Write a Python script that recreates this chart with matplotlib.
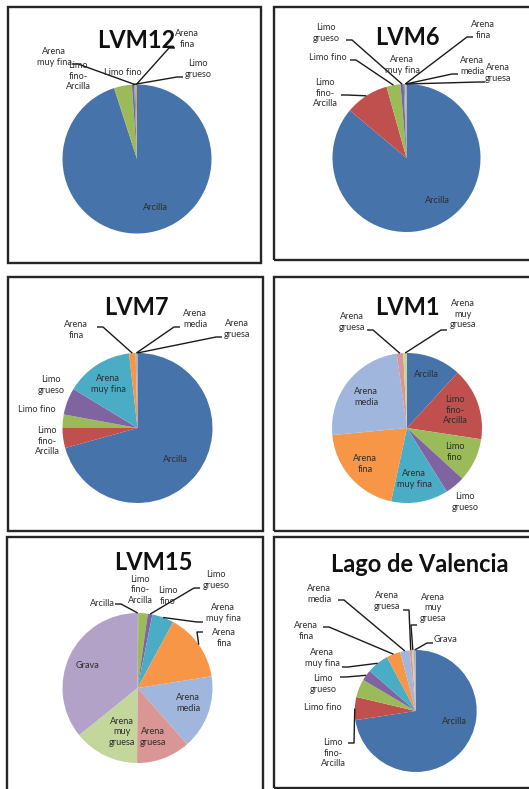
import numpy as np
import matplotlib
matplotlib.use("Agg")
import matplotlib.pyplot as plt
from matplotlib.patches import Rectangle

W, H = 529, 789

# ---------------- data ----------------
categories = ["Arcilla", "Limo fino-Arcilla", "Limo fino", "Limo grueso",
              "Arena muy fina", "Arena fina", "Arena media", "Arena gruesa",
              "Arena muy gruesa", "Grava"]
colors = ["#4573AA", "#C0504D", "#9BBB59", "#8064A2", "#4BACC6",
          "#F79646", "#A0B6DC", "#D99694", "#C3D69B", "#B3A2C7"]

titles = ["LVM12", "LVM6", "LVM7", "LVM1", "LVM15", "Lago de Valencia"]

lvm12 = [95.0, 0.1, 3.8, 0.5, 0.3, 0.3]
lvm6 = [86.1, 9.55, 3.05, 0.7, 0.25, 0.15, 0.1, 0.1]
lvm7 = [70.7, 4.3, 2.9, 5.8, 14.5, 1.4, 0.3, 0.1]
lvm1 = [11.8, 15.6, 9.4, 4.3, 12.3, 20.1, 24.3, 1.4, 0.8]
lvm15 = [0.1, 0.1, 2.0, 1.0, 4.7, 14.6, 16.0, 11.6, 14.1, 35.8]
lago = [72.6, 6.1, 4.8, 2.9, 5.8, 3.7, 2.5, 0.6, 0.5, 0.5]
series = [lvm12, lvm6, lvm7, lvm1, lvm15, lago]

# ---------------- layout (pixels, top-left origin) ----------------
panels = [(8, 7, 261, 263), (274, 7, 531, 260), (8, 277, 263, 531),
          (274, 277, 531, 531), (7, 537, 263, 792), (274, 537, 531, 788)]
pie_geo = [(137, 159, 74.5), (406.5, 158, 74), (137.5, 428, 75),
           (407, 428, 75), (137.5, 688, 75), (415.7, 711, 61)]
title_pos = [(136, 48), (407, 45), (136, 315), (407, 315), (153, 570), (420, 572)]

# (category index, wrapped text, x, y, leader start or None)
labels = [
    [(0, "Arcilla", 155, 207, None),
     (4, "Arena\nmuy fina", 54, 57, (72, 64)),
     (1, "Limo\nfino-\nArcilla", 78, 76, None),
     (2, "Limo fino", 123, 72, None),
     (5, "Arena\nfina", 187, 39, (175, 48)),
     (3, "Limo\ngrueso", 198, 69, (183, 77))],
    [(0, "Arcilla", 437, 200, None),
     (3, "Limo\ngrueso", 326, 33, (346, 40)),
     (2, "Limo fino", 328, 57, (350, 60)),
     (1, "Limo\nfino-\nArcilla", 325, 93, (341, 95)),
     (4, "Arena\nmuy fina", 402, 65, None),
     (5, "Arena\nfina", 483, 30, (473, 37)),
     (6, "Arena\nmedia", 472, 66, (458, 74)),
     (7, "Arena\ngruesa", 498, 73, (485, 82))],
    [(0, "Arcilla", 175, 459, None),
     (4, "Arena\nmuy fina", 108, 384, None),
     (5, "Arena\nfina", 76, 330, (97, 327)),
     (6, "Arena\nmedia", 195, 319, (180, 327)),
     (7, "Arena\ngruesa", 237, 329, (222, 337)),
     (3, "Limo\ngrueso", 51, 385, None),
     (2, "Limo fino", 37, 409, None),
     (1, "Limo\nfino-\nArcilla", 47, 441, None)],
    [(0, "Arcilla", 426, 374, None),
     (1, "Limo\nfino-\nArcilla", 455, 410, None),
     (2, "Limo\nfino", 455, 452, None),
     (3, "Limo\ngrueso", 465, 502, None),
     (4, "Arena\nmuy fina", 414, 479, None),
     (5, "Arena\nfina", 365, 464, None),
     (6, "Arena\nmedia", 366, 397, None),
     (7, "Arena\ngruesa", 352, 322, (367, 330)),
     (8, "Arena\nmuy\ngruesa", 463, 314, (447, 330))],
    [(0, "Arcilla", 102, 603, (115, 604)),
     (1, "Limo\nfino-\nArcilla", 140, 590, None),
     (2, "Limo\nfino", 168, 596, None),
     (3, "Limo\ngrueso", 216, 580, (200, 588)),
     (4, "Arena\nmuy fina", 223, 613, (203, 622)),
     (5, "Arena\nfina", 224, 638, (203, 632)),
     (6, "Arena\nmedia", 188, 703, None),
     (7, "Arena\ngruesa", 153, 737, None),
     (8, "Arena\nmuy\ngruesa", 122, 732, None),
     (9, "Grava", 87, 665, None)],
    [(0, "Arcilla", 454, 721, None),
     (1, "Limo\nfino-\nArcilla", 333, 753, (348, 743)),
     (2, "Limo fino", 323, 707, None),
     (3, "Limo\ngrueso", 323, 684, (340, 677)),
     (4, "Arena\nmuy fina", 322, 658, (342, 667)),
     (5, "Arena\nfina", 306, 631, (323, 627)),
     (6, "Arena\nmedia", 319, 594, (338, 600)),
     (7, "Arena\ngruesa", 387, 601, (403, 610)),
     (8, "Arena\nmuy\ngruesa", 433, 608, (417, 625)),
     (9, "Grava", 445, 640, (433, 643))],
]

FONT = ["Lato", "DejaVu Sans"]
TXT = "#2e2e2e"

fig = plt.figure(figsize=(W / 100, H / 100), dpi=100)
ax = fig.add_axes([0, 0, 1, 1])


def Y(py):
    return H - py


for i, vals in enumerate(series):
    cx, cy, r = pie_geo[i]
    wedges, _ = ax.pie(vals, colors=colors[:len(vals)], startangle=90,
                       counterclock=False, center=(cx, Y(cy)), radius=r,
                       wedgeprops=dict(linewidth=0))
    # panel border
    x0, y0, x1, y1 = panels[i]
    ax.add_patch(Rectangle((x0, Y(y1)), x1 - x0, y1 - y0, fill=False,
                           edgecolor="#262626", linewidth=1.7, zorder=5))
    tx, ty = title_pos[i]
    ax.text(tx, Y(ty), titles[i], ha="center", va="baseline", fontsize=17,
            fontweight="bold", family=FONT, color="#111111", zorder=6)
    for (k, txt, lx, ly, start) in labels[i]:
        ax.text(lx, Y(ly), txt, ha="center", va="center", fontsize=6.6,
                family=FONT, color=TXT, linespacing=1.15, zorder=7)
        if start is not None:
            w = wedges[k]
            mid = np.deg2rad((w.theta1 + w.theta2) / 2)
            ex = w.center[0] + w.r * np.cos(mid)
            ey = w.center[1] + w.r * np.sin(mid)
            sx, sy = start[0], Y(start[1])
            step = 6 if ex > sx else -6
            ax.plot([sx, sx + step, ex], [sy, sy, ey], color="#1a1a1a",
                    linewidth=1.0, solid_capstyle="butt", zorder=4)

ax.set_xlim(0, W)
ax.set_ylim(0, H)
ax.set_aspect("auto")
ax.axis("off")
fig.savefig("out.png", dpi=100, facecolor="white")
